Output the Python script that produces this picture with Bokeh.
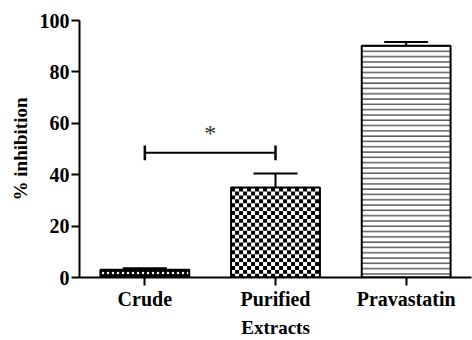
import math
from bokeh.plotting import figure
from bokeh.models import Range1d, FixedTicker, ColumnDataSource, Whisker, TeeHead
from bokeh.core.properties import value
from bokeh.embed import file_html
from bokeh.resources import INLINE

categories = ["Crude", "Purified", "Pravastatin"]
means = [3.0, 35.0, 90.2]
errors = [0.6, 5.5, 1.4]
sig_pair = [0, 1]
sig_y = 48.5
sig_label = "*"
y_ticks = [0, 20, 40, 60, 80, 100]

FONT = "Liberation Serif"
xs = list(range(len(categories)))
BAR_W = 0.68

W, H = 472, 340
BL, BR, BT, BB = 79, 1, 20, 58
Y_MAX = 100

p = figure(width=W, height=H, output_backend="svg", toolbar_location=None,
           x_range=Range1d(-0.5, len(categories) - 0.5), y_range=Range1d(0, Y_MAX),
           min_border_left=BL, min_border_right=BR, min_border_top=BT, min_border_bottom=BB)
p.outline_line_color = None
p.grid.grid_line_color = None

# error bars (drawn first, bars cover the lower part)
src = ColumnDataSource(dict(x=xs, lower=means, upper=[m + e for m, e in zip(means, errors)]))
wh = Whisker(base="x", lower="lower", upper="upper", source=src, line_width=2,
             line_color="black", lower_head=None, level="glyph",
             upper_head=TeeHead(size=44, line_width=2, line_color="black"))
p.add_layout(wh)

# Crude: black with small white dots
p.vbar(x=[xs[0]], top=[means[0]], width=BAR_W, fill_color="black", line_color="black",
       line_width=2, hatch_pattern="dot", hatch_color="white", hatch_scale=5,
       hatch_weight=2.2)

# Purified: checkerboard (texture cells in 4 px squares, within the bar)
p.vbar(x=[xs[1]], top=[means[1]], width=BAR_W, fill_color="white", line_color=None)
ux = (W - BL - BR) / len(categories)      # px per x unit
uy = (H - BT - BB) / Y_MAX                # px per y unit
cx, cy = 4 / ux, 4 / uy
left, right, top = xs[1] - BAR_W / 2, xs[1] + BAR_W / 2, means[1]
ql, qr, qb, qt = [], [], [], []
for i in range(math.ceil((right - left) / cx)):
    for j in range(math.ceil(top / cy)):
        if (i + j) % 2 == 0:
            ql.append(left + i * cx); qr.append(min(left + (i + 1) * cx, right))
            qt.append(top - j * cy); qb.append(max(top - (j + 1) * cy, 0))
p.quad(left=ql, right=qr, bottom=qb, top=qt, fill_color="black", line_color=None)
p.vbar(x=[xs[1]], top=[means[1]], width=BAR_W, fill_color=None, line_color="black",
       line_width=2)

# Pravastatin: horizontal lines
p.vbar(x=[xs[2]], top=[means[2]], width=BAR_W, fill_color="white", line_color="black",
       line_width=2, hatch_pattern="horizontal_line", hatch_color="#333333",
       hatch_scale=5.3, hatch_weight=1.2)

# significance bracket
cap = 2.9
p.segment(x0=[xs[sig_pair[0]]], y0=[sig_y], x1=[xs[sig_pair[1]]], y1=[sig_y],
          line_color="black", line_width=2)
p.segment(x0=[xs[i] for i in sig_pair], y0=[sig_y - cap] * 2,
          x1=[xs[i] for i in sig_pair], y1=[sig_y + cap] * 2,
          line_color="black", line_width=2.5)
p.text(x=[(xs[sig_pair[0]] + xs[sig_pair[1]]) / 2], y=[sig_y + 2.5], text=[sig_label],
       text_font=value(FONT), text_font_size="24px", text_color="#333333",
       text_align="center", text_baseline="bottom")

for ax in (p.xaxis[0], p.yaxis[0]):
    ax.axis_line_width = 2
    ax.axis_line_color = "black"
    ax.major_tick_line_width = 2
    ax.major_tick_line_color = "black"
    ax.major_tick_out = 8
    ax.major_tick_in = 0
    ax.minor_tick_line_color = None
    ax.major_label_text_font = FONT
    ax.major_label_text_font_style = "bold"
    ax.major_label_text_font_size = "20px"
    ax.major_label_text_color = "black"
    ax.axis_label_text_font = FONT
    ax.axis_label_text_font_style = "bold"
    ax.axis_label_text_font_size = "19px"
    ax.axis_label_text_color = "black"

p.xaxis.ticker = FixedTicker(ticks=xs)
p.xaxis.major_label_overrides = {i: c for i, c in zip(xs, categories)}
p.xaxis.axis_label = "Extracts"
p.xaxis.major_label_standoff = 2
p.xaxis.axis_label_standoff = 4
p.yaxis.ticker = FixedTicker(ticks=y_ticks)
p.yaxis.axis_label = "% inhibition"
p.yaxis.major_label_standoff = 2
p.yaxis.axis_label_standoff = 6

open("out.html", "w").write(file_html(p, INLINE))
